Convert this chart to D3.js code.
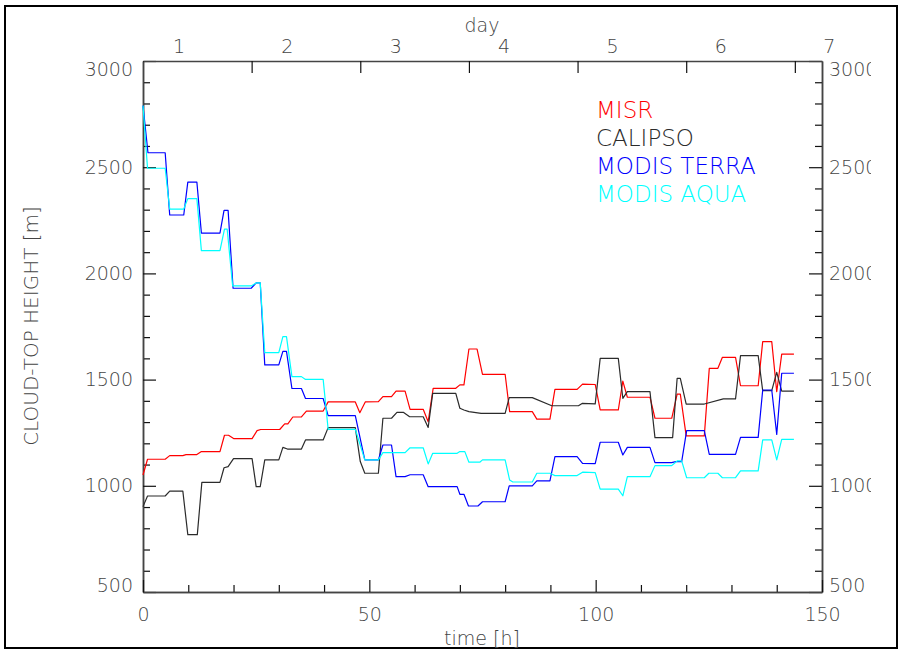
<!DOCTYPE html>
<html>
<head>
<meta charset="utf-8">
<script src="https://cdn.jsdelivr.net/npm/d3@7"></script>
<style>
  body { margin: 0; background: #fff; }
  svg text { font-family: "DejaVu Sans", sans-serif; font-weight: 200; }
</style>
</head>
<body>
<svg id="chart" width="903" height="651"></svg>
<script>
// [time (h), cloud-top height (m)]
var misr = [[0,1051],[1,1125],[4.9,1125],[5.9,1142],[8.8,1142],[9.5,1147],[11.9,1147],[12.9,1161],[17,1161],[18,1238],[18.9,1238],[20.1,1222],[24.1,1222],[25.2,1260],[26,1265],[30.2,1265],[31.3,1292],[32,1292],[33.1,1324],[35,1324],[36.1,1352],[39.8,1352],[40.9,1395],[46.9,1395],[47.9,1344],[49.1,1395],[52,1396],[53,1420],[54.9,1420],[55.9,1446],[57.9,1446],[59,1360],[61.9,1360],[63,1302],[64.1,1459],[69.1,1459],[70,1475],[70.9,1475],[72,1644],[73.8,1644],[75,1525],[80,1525],[81,1349],[86,1349],[87,1314],[89.9,1314],[91,1454],[95.9,1454],[97.1,1479],[99.9,1477],[101,1357],[105,1357],[106,1493],[107,1417],[112,1417],[113.1,1318],[116.8,1318],[118,1432],[118.7,1432],[120,1235],[124,1235],[125.1,1553],[127,1553],[128,1605],[130.9,1605],[132,1471],[135.9,1471],[136.9,1679],[138.9,1679],[140,1443],[141.1,1620],[143.8,1620]];

var calipso = [[0,902],[1,952],[4.9,952],[5.9,975],[8.8,975],[9.9,770],[12,770],[13,1016],[17,1016],[17.9,1085],[18.8,1090],[20,1128],[24.1,1128],[25,996],[25.9,996],[26.9,1122],[30,1122],[30.9,1181],[31.9,1173],[35,1173],[35.9,1216],[39.8,1216],[40.9,1274],[46.9,1274],[48,1114],[49,1059],[52,1059],[53,1318],[54.9,1318],[56.1,1346],[57.5,1346],[58.9,1325],[61.9,1325],[63,1275],[64,1435],[69.1,1435],[70,1365],[70.9,1357],[72,1349],[74.7,1341],[80,1341],[80.9,1415],[86,1415],[90.3,1377],[96.2,1377],[97,1388],[99.9,1386],[101,1600],[105,1600],[106,1412],[107,1443],[112,1443],[113.1,1227],[117,1227],[118,1506],[118.7,1506],[120,1385],[124,1385],[128.2,1409],[130.9,1409],[132,1613],[135.9,1613],[136.9,1448],[138.9,1448],[140,1534],[141.1,1446],[143.8,1446]];

var modisTerra = [[0,2790],[1.1,2568],[4.9,2568],[5.9,2275],[9,2275],[9.9,2430],[11.9,2430],[12.9,2190],[17,2190],[17.9,2297],[18.8,2297],[19.9,1930],[23.9,1930],[25,1955],[25.9,1955],[26.9,1569],[30,1569],[30.9,1633],[31.7,1633],[32.9,1458],[35,1458],[35.9,1411],[39.8,1411],[40.9,1330],[46.9,1330],[49,1122],[52,1122],[53,1192],[54.9,1192],[55.9,1043],[57.9,1043],[59,1052],[61.9,1052],[63,996],[69.4,996],[70,960],[70.9,960],[71.9,905],[74,905],[75,925],[80,925],[80.9,1000],[86,1000],[87,1023],[89.9,1023],[91,1137],[95.9,1137],[97.1,1106],[99.9,1104],[101,1205],[105,1205],[106,1145],[107,1181],[112,1181],[113.1,1109],[116.8,1109],[117.7,1114],[119,1114],[120.1,1260],[124,1260],[125.1,1148],[130.9,1148],[132,1228],[135.9,1228],[136.9,1451],[138.9,1451],[140,1242],[141.1,1530],[143.8,1530]];

var modisAqua = [[0,2790],[1,2495],[4.9,2495],[5.9,2303],[9,2303],[9.9,2352],[11.9,2352],[12.9,2107],[17,2107],[18,2208],[18.6,2208],[19.8,1941],[23.9,1941],[25,1955],[25.9,1955],[26.9,1627],[30,1627],[30.9,1702],[31.7,1702],[32.9,1514],[35,1514],[35.9,1501],[39.8,1501],[40.9,1266],[46.9,1266],[49,1122],[52,1122],[53,1156],[57.9,1156],[59,1179],[61.9,1179],[63,1103],[64,1153],[69.4,1153],[70,1161],[71.1,1161],[72,1111],[74.4,1111],[75,1122],[80,1122],[81,1027],[81.7,1018],[86,1018],[87,1059],[89.9,1059],[91,1048],[95.9,1048],[97.1,1064],[99.9,1062],[101,984],[105,984],[106,953],[107,1043],[112,1043],[113.1,1095],[116.8,1095],[118,1117],[119,1117],[120.1,1038],[124,1038],[125,1059],[127,1059],[128,1038],[130.9,1038],[132,1070],[135.9,1070],[136.9,1216],[138.9,1216],[140,1122],[141.1,1219],[143.8,1219]];

var seriesNames = ["MISR", "CALIPSO", "MODIS TERRA", "MODIS AQUA"];
var seriesColors = ["#ff0000", "#2b2b2b", "#0000ff", "#00ffff"];

var hourTicks = [0, 50, 100, 150];
var hourMinorTicks = [10, 20, 30, 40, 60, 70, 80, 90, 110, 120, 130, 140];
var heightTicks = [500, 1000, 1500, 2000, 2500, 3000];
var heightMinorTicks = [600, 700, 800, 900, 1100, 1200, 1300, 1400, 1600, 1700, 1800, 1900, 2100, 2200, 2300, 2400, 2600, 2700, 2800, 2900];
var dayTickHours = [24, 48, 72, 96, 120, 144];
var dayLabels = [1, 2, 3, 4, 5, 6, 7];

var svg = d3.select("#chart");
var plotLeft = 143, plotRight = 822, plotTop = 61, plotBottom = 592;

var x = d3.scaleLinear().domain([0, 150]).range([plotLeft, plotRight]);
var y = d3.scaleLinear().domain([500, 3000]).range([plotBottom, plotTop]);
// day labels sit a bit after the hour ticks in the original
var dayX = d3.scaleLinear().domain([1, 7]).range([x(7.85), x(151.5)]);

// outer frame
svg.append("rect")
    .attr("x", 5).attr("y", 6)
    .attr("width", 892).attr("height", 642)
    .attr("fill", "none")
    .attr("stroke", "#000")
    .attr("stroke-width", 2);

function styleAxis(g) {
    g.select(".domain").attr("stroke", "#444").attr("stroke-width", 1.5);
    g.selectAll(".tick line").attr("stroke", "#111").attr("stroke-width", 1.2);
    g.selectAll("text").attr("fill", "#444").style("font-size", "19px");
}

// end labels of the height axis are pulled inside the axis range
function nudgeEnds(g) {
    g.selectAll(".tick text").attr("dy", function(d) {
        if (d === 3000) return "0.75em";
        if (d === 500) return "-0.05em";
        return "0.32em";
    });
}

// left axis
svg.append("g").attr("transform", "translate(" + plotLeft + ",0)")
    .call(d3.axisLeft(y).tickValues(heightMinorTicks).tickSize(-7).tickSizeOuter(0).tickFormat(""))
    .call(styleAxis);
svg.append("g").attr("transform", "translate(" + plotLeft + ",0)")
    .call(d3.axisLeft(y).tickValues(heightTicks).tickSize(-13).tickSizeOuter(0).tickPadding(10).tickFormat(d3.format("d")))
    .call(styleAxis)
    .call(nudgeEnds);

// right axis (labels cut by the window edge like the original)
svg.append("clipPath").attr("id", "rclip")
    .append("rect").attr("x", -900).attr("y", 0).attr("width", 949).attr("height", 651);
svg.append("g").attr("transform", "translate(" + plotRight + ",0)")
    .call(d3.axisRight(y).tickValues(heightMinorTicks).tickSize(-7).tickSizeOuter(0).tickFormat(""))
    .call(styleAxis);
svg.append("g").attr("transform", "translate(" + plotRight + ",0)")
    .attr("clip-path", "url(#rclip)")
    .call(d3.axisRight(y).tickValues(heightTicks).tickSize(-13).tickSizeOuter(0).tickPadding(7).tickFormat(d3.format("d")))
    .call(styleAxis)
    .call(nudgeEnds);

// bottom axis
svg.append("g").attr("transform", "translate(0," + plotBottom + ")")
    .call(d3.axisBottom(x).tickValues(hourMinorTicks).tickSize(-7).tickSizeOuter(0).tickFormat(""))
    .call(styleAxis);
svg.append("g").attr("transform", "translate(0," + plotBottom + ")")
    .call(d3.axisBottom(x).tickValues(hourTicks).tickSize(-12).tickSizeOuter(0).tickPadding(16))
    .call(styleAxis);

// top axis: hour ticks every 24 h, day labels
svg.append("g").attr("transform", "translate(0," + plotTop + ")")
    .call(d3.axisTop(x).tickValues(dayTickHours).tickSize(-12).tickSizeOuter(0).tickFormat(""))
    .call(styleAxis);
var dayAxis = svg.append("g").attr("transform", "translate(0," + plotTop + ")")
    .call(d3.axisTop(dayX).tickValues(dayLabels).tickSize(0).tickPadding(8).tickFormat(d3.format("d")))
    .call(styleAxis);
dayAxis.select(".domain").remove();

// titles
svg.append("text")
    .attr("x", 482).attr("y", 32)
    .attr("text-anchor", "middle")
    .attr("fill", "#444").style("font-size", "19px")
    .text("day");
svg.append("text")
    .attr("x", 482).attr("y", 645)
    .attr("text-anchor", "middle")
    .attr("fill", "#444").style("font-size", "19px")
    .text("time [h]");
svg.append("text")
    .attr("transform", "translate(38,326) rotate(-90)")
    .attr("text-anchor", "middle")
    .attr("fill", "#444").style("font-size", "20px")
    .text("CLOUD-TOP HEIGHT [m]");

// series
var line = d3.line()
    .x(function(d) { return x(d[0]); })
    .y(function(d) { return y(d[1]); });

var allSeries = [misr, calipso, modisTerra, modisAqua];
svg.selectAll(".series")
    .data(allSeries)
    .enter().append("path")
    .attr("class", "series")
    .attr("d", line)
    .attr("fill", "none")
    .attr("stroke", function(d, i) { return seriesColors[i]; })
    .attr("stroke-width", 1.2)
    .attr("stroke-linejoin", "round");

// legend
svg.selectAll(".legend")
    .data(seriesNames)
    .enter().append("text")
    .attr("class", "legend")
    .attr("x", 596)
    .attr("y", function(d, i) { return 118 + i * 28; })
    .attr("fill", function(d, i) { return seriesColors[i]; })
    .style("font-size", "23px")
    .text(function(d) { return d; });
</script>
</body>
</html>
